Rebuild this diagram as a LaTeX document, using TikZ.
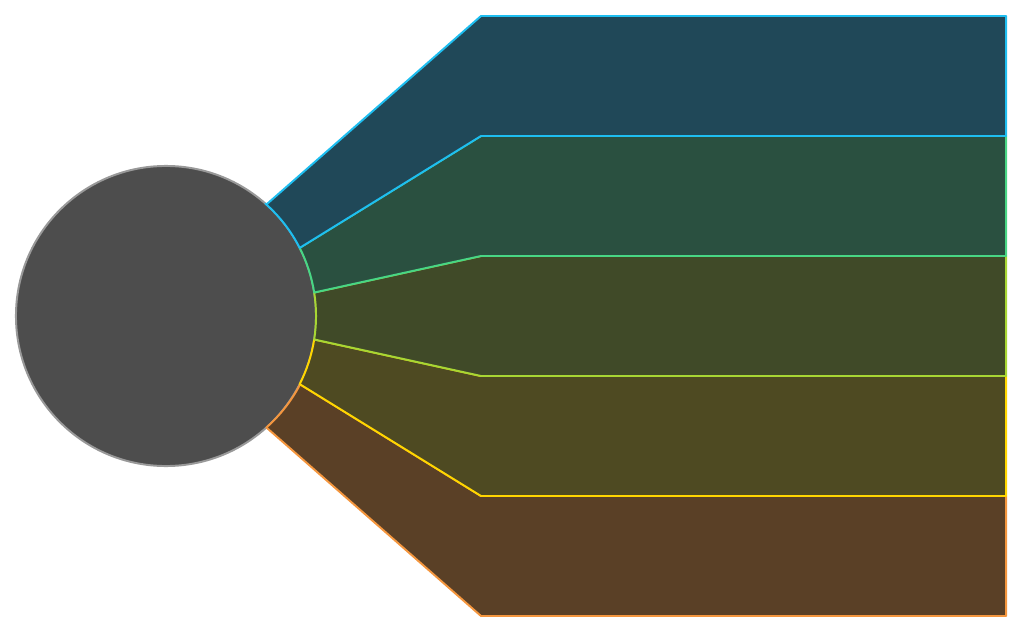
\documentclass[tikz,border=0pt]{standalone}
\usepackage{tikz}

\definecolor{hubfill}{RGB}{77,77,77}
\definecolor{hubline}{RGB}{153,153,153}
\definecolor{lineA}{RGB}{30,190,240}
\definecolor{lineB}{RGB}{72,214,132}
\definecolor{lineC}{RGB}{168,214,52}
\definecolor{lineD}{RGB}{255,214,0}
\definecolor{lineE}{RGB}{244,150,62}
\definecolor{fillA}{RGB}{32,72,88}
\definecolor{fillB}{RGB}{42,80,64}
\definecolor{fillC}{RGB}{64,74,40}
\definecolor{fillD}{RGB}{78,74,34}
\definecolor{fillE}{RGB}{90,64,38}

\begin{document}
\begin{tikzpicture}[x=0.025cm, y=0.025cm, line width=1.4pt, line join=round]
 \useasboundingbox (0,0) rectangle (1023,633);
 \node (hub) [circle, fill=hubfill, draw=hubline, minimum size=7.5cm, inner sep=0pt, outer sep=0pt] at (166,317) {};
 % bands, lowest first
 \foreach \yt/\ab/\at/\c in {137/-48.5/-27/E, 257/-27/-9/D, 377/-9/9/C, 497/9/27/B, 617/27/48.5/A} {
   \draw[draw=line\c, fill=fill\c] (hub.\at) -- (481,\yt) -- (1006,\yt) -- (1006,\yt-120) -- (481,\yt-120)
     -- (hub.\ab) arc[start angle=\ab, end angle=\at, radius=150] -- cycle;
 }
\end{tikzpicture}
\end{document}
